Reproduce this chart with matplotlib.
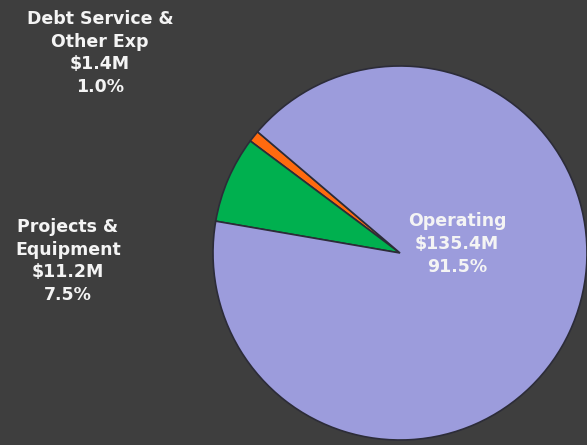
import matplotlib.pyplot as plt

# Budget breakdown
categories = ['Debt Service &\nOther Exp', 'Projects &\nEquipment', 'Operating']
amounts = ['$1.4M', '$11.2M', '$135.4M']
shares = [1.0, 7.5, 91.5]
colors = ['#ff6a0f', '#00b04f', '#9c9cdc']

W, H = 587, 445
fig = plt.figure(figsize=(W / 100, H / 100), dpi=100)
fig.patch.set_facecolor('#3e3e3e')
ax = fig.add_axes([0, 0, 1, 1])
ax.set_facecolor('#3e3e3e')

ax.pie(shares, colors=colors, startangle=139.6, counterclock=True,
       center=(400, H - 253), radius=187,
       wedgeprops=dict(edgecolor='#2c2c38', linewidth=1.2))
ax.set_xlim(0, W)
ax.set_ylim(0, H)
ax.set_aspect('equal')
ax.axis('off')

label_pos = [(100, H - 53), (68, H - 261), (457, H - 244)]
for cat, amt, pct, (x, y) in zip(categories, amounts, shares, label_pos):
    ax.text(x, y, f'{cat}\n{amt}\n{pct:.1f}%', ha='center', va='center',
            color='#f4f4f4', fontsize=12.5, fontweight='bold',
            family='DejaVu Sans', linespacing=1.33)

fig.savefig('out.png', dpi=100, facecolor=fig.get_facecolor())
